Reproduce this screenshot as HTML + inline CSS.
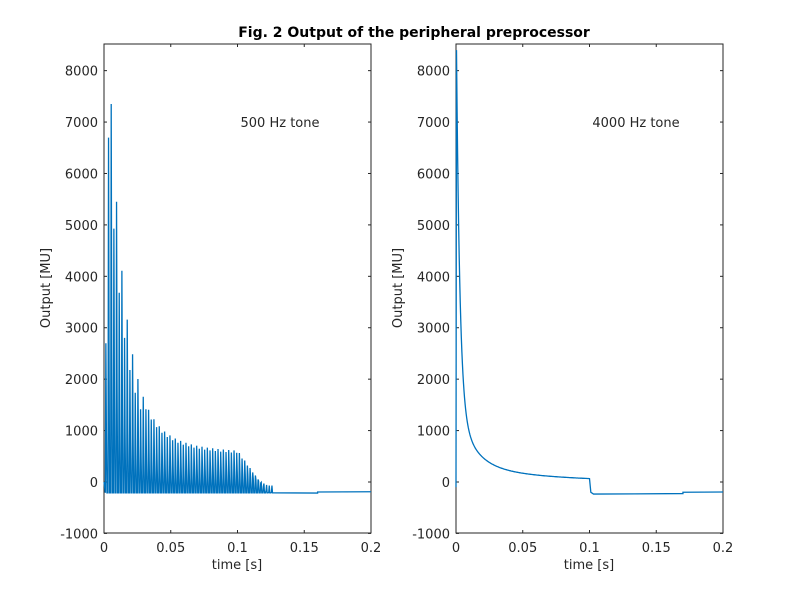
<!DOCTYPE html>
<html><head><style>
body{margin:0;background:#fff;}
svg text{font-family:"DejaVu Sans","Liberation Sans",sans-serif;font-size:13px;fill:#262626;}
</style></head><body>
<svg id="s" width="800" height="600" xmlns="http://www.w3.org/2000/svg">
<rect width="800" height="600" fill="#fff"/>
<text x="414" y="37" text-anchor="middle" style="font-weight:bold;font-size:14px;fill:#000">Fig. 2 Output of the peripheral preprocessor</text>
<g id="ax"></g>
<path id="p1" fill="none" stroke="#0072BD" stroke-width="1.3"/>
<path id="p2" fill="none" stroke="#0072BD" stroke-width="1.3"/>
<text x="280" y="127" text-anchor="middle">500 Hz tone</text>
<text x="636" y="127" text-anchor="middle">4000 Hz tone</text>
<text x="237" y="569" text-anchor="middle">time [s]</text>
<text x="589" y="569" text-anchor="middle">time [s]</text>
<text transform="translate(50,288) rotate(-90)" text-anchor="middle">Output [MU]</text>
<text transform="translate(402,288) rotate(-90)" text-anchor="middle">Output [MU]</text>
</svg>
<script>
function Y(v){return 482-v*0.05142;}
function X(x0,t){return x0+t*1335;}
var g=document.getElementById('ax'),h='';
var labs=['0','0.05','0.1','0.15','0.2'];
[104,456].forEach(function(x0){
 var x1=x0+267;
 h+='<rect x="'+x0+'" y="44" width="267" height="489" fill="none" stroke="#262626" stroke-width="1"/>';
 for(var i=0;i<=4;i++){var x=x0+i*66.75;
  h+='<line x1="'+x+'" y1="533" x2="'+x+'" y2="530" stroke="#262626"/><line x1="'+x+'" y1="44" x2="'+x+'" y2="47" stroke="#262626"/>';
  h+='<text x="'+x+'" y="552" text-anchor="middle">'+labs[i]+'</text>';}
 for(var v=-1000;v<=8000;v+=1000){var y=Y(v);
  h+='<line x1="'+x0+'" y1="'+y+'" x2="'+(x0+3)+'" y2="'+y+'" stroke="#262626"/><line x1="'+x1+'" y1="'+y+'" x2="'+(x1-3)+'" y2="'+y+'" stroke="#262626"/>';
  h+='<text x="'+(x0-6)+'" y="'+(y+5)+'" text-anchor="end">'+v+'</text>';}
});
g.innerHTML=h;
var d='M'+X(104,0)+' '+Y(0);
var P=0.002;
for(var k=0;k<63;k++){
 var t=k*P+0.001, e;
 if(t<0.002) e=2700; else e=550+6500*Math.exp(-(t-0.004)/0.011)+1000*Math.exp(-t/0.035);
 if(t>0.1){e=600-(t-0.1)/0.022*800;}
 var alt=(k%2==1)?(t<0.03?0.78:0.93):1;
 var pk=Math.max(e*alt,-200), tr=-210;
 var mid=Math.max(pk*0.35,-200);
 d+=' L'+X(104,t).toFixed(2)+' '+Y(tr).toFixed(1)+' L'+X(104,t+0.0004).toFixed(2)+' '+Y(pk).toFixed(1)+' L'+X(104,t+0.0008).toFixed(2)+' '+Y(mid).toFixed(1)+' L'+X(104,t+0.0012).toFixed(2)+' '+Y(tr).toFixed(1);
}
d+=' L'+X(104,0.16)+' '+Y(-215)+' L'+X(104,0.16)+' '+Y(-195)+' L'+X(104,0.2)+' '+Y(-190);
document.getElementById('p1').setAttribute('d',d);
var d2='M456 '+Y(-100)+' L456.5 '+Y(8400);
for(var t=0.0004;t<=0.1;t+=0.0004){
 var v=8000*Math.exp(-t/0.0025)+1200*Math.exp(-t/0.012)+350*Math.exp(-t/0.06);
 d2+=' L'+X(456,t).toFixed(2)+' '+Y(v).toFixed(1);
}
d2+=' L'+X(456,0.101)+' '+Y(-200)+' L'+X(456,0.103)+' '+Y(-235)+' L'+X(456,0.17)+' '+Y(-225)+' L'+X(456,0.17)+' '+Y(-200)+' L'+X(456,0.2)+' '+Y(-195);
document.getElementById('p2').setAttribute('d',d2);
</script>
</body></html>
